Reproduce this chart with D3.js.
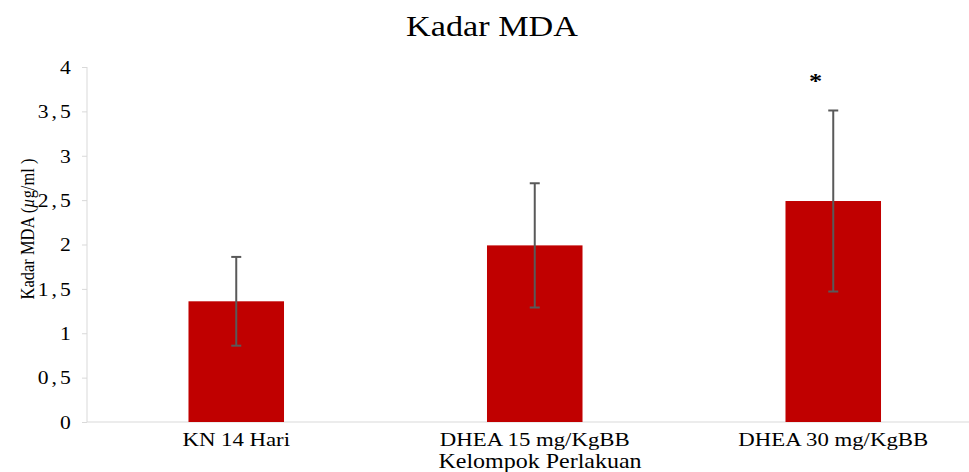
<!DOCTYPE html>
<html>
<head>
<meta charset="utf-8">
<script src="https://cdn.jsdelivr.net/npm/d3@7"></script>
<style>
  body { margin: 0; background: #fff; }
  text { font-family: "Liberation Serif", "Times New Roman", serif; fill: #000; }
</style>
</head>
<body>
<div id="chart"></div>
<script>
var categories = ["KN 14 Hari", "DHEA 15 mg/KgBB", "DHEA 30 mg/KgBB"];
var means = [1.36, 1.99, 2.49];
var sds = [0.5, 0.7, 1.02];
var marks = ["", "", "*"];
var yTicks = [0, 0.5, 1, 1.5, 2, 2.5, 3, 3.5, 4];

var width = 969,
    height = 472,
    stretch = 1.2;  // source picture is widened, text too

var x = d3.scaleBand()
    .domain(categories)
    .range([87, 87 + 3 * 298.5])
    .paddingInner(0.68)
    .paddingOuter(0.34);

var y = d3.scaleLinear()
    .domain([0, 4])
    .range([422, 67]);

var svg = d3.select("#chart").append("svg")
    .attr("width", width)
    .attr("height", height);

// title
svg.append("text")
    .attr("transform", "translate(492,36) scale(" + stretch + ",1)")
    .style("text-anchor", "middle")
    .style("font-size", "28.5px")
    .text("Kadar MDA");

// y axis
var yAxis = svg.append("g")
    .attr("transform", "translate(87,0)")
    .call(d3.axisLeft(y)
      .tickValues(yTicks)
      .tickSize(5)
      .tickFormat(function(d) { return String(d).replace(".", ","); }));

yAxis.select(".domain").attr("stroke", "#d9d9d9").attr("d", "M0,67V422");
yAxis.selectAll(".tick line").attr("stroke", "#d9d9d9");
yAxis.selectAll(".tick text")
    .attr("x", -11)
    .attr("dy", "0.35em")
    .attr("transform", "scale(" + stretch + ",1)")
    .style("font-family", "Liberation Serif")
    .style("font-size", "18px")
    .style("letter-spacing", "2.5px")
    .attr("fill", "#000");

// x axis line
svg.append("line")
    .attr("x1", 87)
    .attr("x2", width)
    .attr("y1", y(0))
    .attr("y2", y(0))
    .attr("stroke", "#d9d9d9")
    .attr("stroke-width", 1);

// bars
svg.selectAll(".bar")
    .data(categories)
    .enter().append("rect")
      .attr("class", "bar")
      .attr("x", function(d) { return x(d); })
      .attr("y", function(d, i) { return y(means[i]); })
      .attr("width", x.bandwidth())
      .attr("height", function(d, i) { return y(0) - y(means[i]); })
      .style("fill", "#c00000");

// error bars
var err = svg.selectAll(".err")
    .data(categories)
    .enter().append("g")
      .attr("class", "err")
      .attr("stroke", "#595959")
      .attr("stroke-width", 2);

err.append("line")
    .attr("x1", function(d) { return x(d) + x.bandwidth() / 2; })
    .attr("x2", function(d) { return x(d) + x.bandwidth() / 2; })
    .attr("y1", function(d, i) { return y(means[i] + sds[i]); })
    .attr("y2", function(d, i) { return y(means[i] - sds[i]); });

err.append("line")
    .attr("x1", function(d) { return x(d) + x.bandwidth() / 2 - 5; })
    .attr("x2", function(d) { return x(d) + x.bandwidth() / 2 + 5; })
    .attr("y1", function(d, i) { return y(means[i] + sds[i]); })
    .attr("y2", function(d, i) { return y(means[i] + sds[i]); });

err.append("line")
    .attr("x1", function(d) { return x(d) + x.bandwidth() / 2 - 5; })
    .attr("x2", function(d) { return x(d) + x.bandwidth() / 2 + 5; })
    .attr("y1", function(d, i) { return y(means[i] - sds[i]); })
    .attr("y2", function(d, i) { return y(means[i] - sds[i]); });

// significance marks
svg.selectAll(".mark")
    .data(categories)
    .enter().append("text")
      .attr("class", "mark")
      .attr("transform", function(d, i) {
        return "translate(" + (x(d) + 30) + "," + (y(means[i] + sds[i]) - 22) + ") scale(" + stretch + ",1)";
      })
      .style("text-anchor", "middle")
      .style("font-size", "22px")
      .style("font-weight", "bold")
      .text(function(d, i) { return marks[i]; });

// category labels
svg.selectAll(".catLabel")
    .data(categories)
    .enter().append("text")
      .attr("class", "catLabel")
      .attr("transform", function(d) {
        return "translate(" + (x(d) + x.bandwidth() / 2) + ",446) scale(" + stretch + ",1)";
      })
      .style("text-anchor", "middle")
      .style("font-size", "19px")
      .text(function(d) { return d; });

// axis titles
svg.append("text")
    .attr("transform", "translate(540,468) scale(" + stretch + ",1)")
    .style("text-anchor", "middle")
    .style("font-size", "20px")
    .text("Kelompok Perlakuan");

var yTitle = svg.append("text")
    .attr("transform", "translate(34,229) scale(" + stretch + ",1) rotate(-90)")
    .style("text-anchor", "middle")
    .style("font-size", "16.5px");
yTitle.append("tspan").text("Kadar MDA (");
yTitle.append("tspan").style("font-style", "italic").text("\u00b5");
yTitle.append("tspan").text("g/ml )");
</script>
</body>
</html>
